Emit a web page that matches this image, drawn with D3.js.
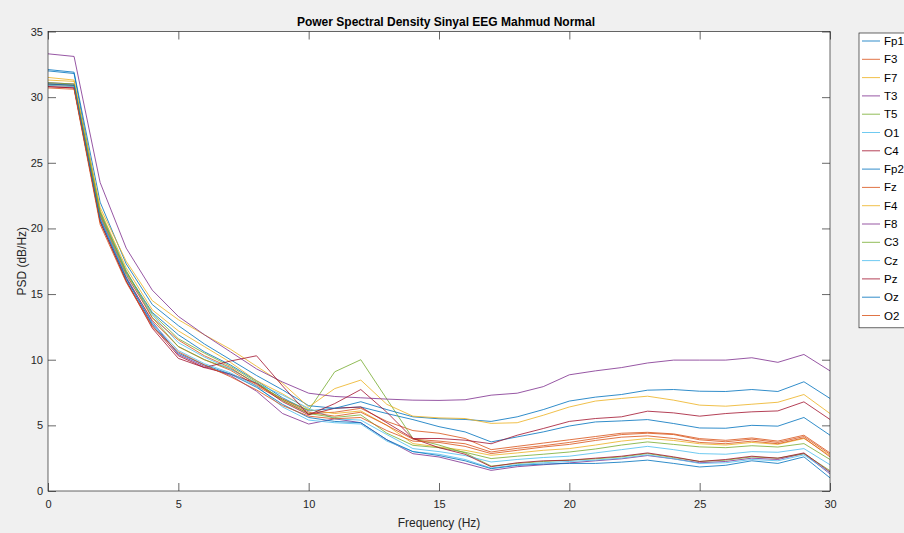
<!DOCTYPE html>
<html>
<head>
<meta charset="utf-8">
<script src="https://cdn.jsdelivr.net/npm/d3@7"></script>
<style>
  html, body { margin: 0; padding: 0; background: #f0f0f0; }
  svg { display: block; }
  text { font-family: "Liberation Sans", Arial, Helvetica, sans-serif; }
</style>
</head>
<body>
<svg id="chart" width="904" height="533"></svg>
<script>
// ---------------- data ----------------
const frequencies = [0,1,2,3,4,5,6,7,8,9,10,11,12,13,14,15,16,17,18,19,20,21,22,23,24,25,26,27,28,29,30];
const channels = ["Fp1","F3","F7","T3","T5","O1","C4","Fp2","Fz","F4","F8","C3","Cz","Pz","Oz","O2"];
const xTicks = [0,5,10,15,20,25,30];
const yTicks = [0,5,10,15,20,25,30,35];

const Fp1 = [32.0,31.8,21.2,16.7,13.6,11.9,10.6,9.6,8.4,7.1,6.1,6.3,6.4,5.9,5.44,4.9,4.5,3.74,4.12,4.5,4.95,5.26,5.34,5.44,5.14,4.8,4.78,5.0,4.94,5.6,4.25];
const F3  = [30.9,30.8,20.5,16.2,13.0,11.0,10.0,9.2,8.0,6.9,5.9,6.0,6.3,5.3,4.6,4.4,4.0,3.15,3.4,3.65,3.9,4.15,4.4,4.47,4.35,3.99,3.86,4.04,3.8,4.25,2.9];
const F7  = [31.3,31.2,21.4,17.0,13.8,12.2,11.0,9.8,8.4,7.4,6.2,5.9,6.1,5.0,3.61,3.35,3.1,2.72,2.9,3.1,3.23,3.5,3.8,4.0,3.85,3.6,3.5,3.7,3.55,4.0,2.7];
const T3  = [31.1,31.0,20.9,16.3,12.9,10.4,9.5,8.8,7.6,5.9,5.1,5.5,5.2,3.9,2.84,2.59,2.1,1.57,1.85,2.0,2.14,2.3,2.45,2.7,2.45,2.15,2.25,2.5,2.4,2.85,1.3];
const T5  = [31.0,30.9,21.3,16.8,13.2,11.0,10.0,9.3,8.2,7.0,6.15,9.08,10.0,7.0,4.0,3.5,2.9,1.9,2.1,2.25,2.35,2.45,2.6,2.85,2.55,2.25,2.35,2.6,2.5,2.85,1.55];
const O1  = [31.0,30.9,20.8,16.4,13.4,11.3,10.2,9.3,8.2,7.3,6.3,5.5,5.4,4.3,3.23,3.0,2.7,2.21,2.4,2.55,2.65,2.9,3.15,3.4,3.15,2.85,2.8,3.0,2.95,3.23,2.0];
const C4  = [30.8,30.7,20.6,16.0,12.6,10.3,9.4,8.9,8.2,6.8,5.8,6.3,6.4,5.2,4.0,4.0,3.87,3.6,4.25,4.76,5.3,5.52,5.65,6.08,5.95,5.7,5.9,6.03,6.1,6.79,5.45];
const Fp2 = [32.1,31.9,22.0,17.3,14.2,12.6,11.2,10.0,8.8,7.7,6.5,6.3,6.8,6.2,5.65,5.5,5.45,5.3,5.65,6.2,6.85,7.15,7.35,7.68,7.73,7.6,7.58,7.73,7.58,8.32,7.05];
const Fz  = [31.0,30.9,21.0,16.5,13.2,11.5,10.3,9.4,8.1,7.0,6.0,5.7,6.0,5.0,3.95,3.8,3.6,2.97,3.25,3.45,3.7,4.0,4.3,4.4,4.3,3.9,3.75,3.95,3.7,4.15,2.8];
const F4  = [31.5,31.3,21.6,17.5,14.5,13.05,11.9,10.8,9.5,8.2,6.4,7.8,8.45,6.6,5.7,5.57,5.52,5.15,5.2,5.77,6.4,6.85,7.05,7.22,6.92,6.54,6.46,6.61,6.76,7.35,5.9];
const F8  = [33.3,33.1,23.5,18.5,15.3,13.3,11.9,10.6,9.3,8.3,7.45,7.2,7.1,7.0,6.92,6.9,6.95,7.3,7.45,7.95,8.85,9.15,9.4,9.75,9.97,9.97,9.97,10.15,9.8,10.4,9.15];
const C3  = [31.1,31.0,21.1,16.6,13.5,11.6,10.5,9.5,8.3,6.9,5.9,5.6,5.8,4.4,3.48,3.3,2.95,2.47,2.65,2.8,2.97,3.2,3.5,3.74,3.55,3.36,3.3,3.45,3.35,3.61,2.4];
const Cz  = [30.9,30.8,20.6,16.1,12.8,10.7,9.7,9.0,8.0,6.4,5.4,5.2,5.1,3.8,3.0,2.8,2.4,1.75,2.0,2.15,2.25,2.35,2.5,2.75,2.45,2.1,2.15,2.4,2.3,2.75,1.4];
const Pz  = [30.8,30.7,20.5,16.0,12.4,10.1,9.4,9.9,10.3,8.0,5.8,6.66,7.73,6.0,4.0,3.3,2.8,1.85,2.15,2.3,2.35,2.5,2.65,2.9,2.6,2.25,2.4,2.65,2.5,2.9,1.45];
const Oz  = [31.0,30.9,20.7,16.2,12.7,10.5,9.6,8.9,7.9,6.6,5.6,5.3,5.2,3.9,3.0,2.7,2.3,1.7,1.95,2.05,2.1,2.1,2.2,2.35,2.1,1.83,1.96,2.3,2.1,2.6,1.0];
const O2  = [30.7,30.6,20.3,15.9,12.5,10.6,9.6,8.7,7.7,6.5,5.7,5.5,5.6,4.6,3.8,3.7,3.4,2.85,3.1,3.35,3.55,3.85,4.1,4.2,4.0,3.7,3.6,3.8,3.6,4.05,2.6];

const seriesValues = [Fp1,F3,F7,T3,T5,O1,C4,Fp2,Fz,F4,F8,C3,Cz,Pz,Oz,O2];
const palette = ["#0072BD","#D95319","#EDB120","#7E2F8E","#77AC30","#4DBEEE","#A2142F"];

// ---------------- layout ----------------
(function draw() {
const svg = d3.select("#chart");
const pLeft = 48, pRight = 830, pTop = 31.5, pBottom = 491;
const axisColor = "#262626";

const x = d3.scaleLinear().domain([0, 30]).range([pLeft, pRight]);
const y = d3.scaleLinear().domain([0, 35]).range([pBottom, pTop]);

svg.append("rect").attr("width", 904).attr("height", 533).attr("fill", "#f0f0f0");
svg.append("rect").attr("x", pLeft).attr("y", pTop)
  .attr("width", pRight - pLeft).attr("height", pBottom - pTop).attr("fill", "#ffffff");

// lines
const line = d3.line().x((d, i) => x(frequencies[i])).y(d => y(d));
const gLines = svg.append("g");
seriesValues.forEach((vals, i) => {
  gLines.append("path")
    .attr("d", line(vals))
    .attr("fill", "none")
    .attr("stroke", palette[i % palette.length])
    .attr("stroke-width", 0.9)
    .attr("stroke-opacity", 0.9)
    .attr("stroke-linejoin", "round");
});

// axes
function styleAxis(g) {
  g.select(".domain").remove();
  g.selectAll(".tick line").attr("stroke", axisColor).attr("stroke-width", 0.7);
  g.selectAll(".tick text").attr("fill", axisColor).attr("font-size", "11px");
}
svg.append("g").attr("transform", `translate(0,${pBottom})`)
  .call(d3.axisBottom(x).tickValues(xTicks).tickSizeInner(-8).tickSizeOuter(0).tickPadding(9).tickFormat(d3.format("d")))
  .call(styleAxis);
svg.append("g").attr("transform", `translate(0,${pTop})`)
  .call(d3.axisTop(x).tickValues(xTicks).tickSizeInner(-8).tickSizeOuter(0).tickFormat(""))
  .call(styleAxis);
svg.append("g").attr("transform", `translate(${pLeft},0)`)
  .call(d3.axisLeft(y).tickValues(yTicks).tickSizeInner(-8).tickSizeOuter(0).tickPadding(5).tickFormat(d3.format("d")))
  .call(styleAxis);
svg.append("g").attr("transform", `translate(${pRight},0)`)
  .call(d3.axisRight(y).tickValues(yTicks).tickSizeInner(-8).tickSizeOuter(0).tickFormat(""))
  .call(styleAxis);

// frame
svg.append("rect").attr("x", pLeft).attr("y", pTop)
  .attr("width", pRight - pLeft).attr("height", pBottom - pTop)
  .attr("fill", "none").attr("stroke", axisColor).attr("stroke-width", 0.7);

// title & labels
svg.append("text").attr("x", 446).attr("y", 26)
  .attr("text-anchor", "middle").attr("font-size", "12px").attr("font-weight", "bold")
  .attr("fill", "#000").text("Power Spectral Density Sinyal EEG Mahmud Normal");
svg.append("text").attr("x", (pLeft + pRight) / 2).attr("y", 527)
  .attr("text-anchor", "middle").attr("font-size", "12px").attr("fill", axisColor)
  .text("Frequency (Hz)");
svg.append("text").attr("transform", `translate(26,${(pTop + pBottom) / 2}) rotate(-90)`)
  .attr("text-anchor", "middle").attr("font-size", "12px").attr("fill", axisColor)
  .text("PSD (dB/Hz)");

// legend
const legX = 859, legY = 33, legStep = 18.3;
const leg = svg.append("g");
leg.append("rect").attr("x", legX).attr("y", legY)
  .attr("width", 60).attr("height", channels.length * legStep + 2)
  .attr("fill", "#ffffff").attr("stroke", axisColor).attr("stroke-width", 0.7);
channels.forEach((name, i) => {
  const cy = legY + 8 + i * legStep;
  leg.append("line").attr("x1", legX + 3).attr("x2", legX + 21)
    .attr("y1", cy).attr("y2", cy)
    .attr("stroke", palette[i % palette.length]).attr("stroke-width", 0.9).attr("stroke-opacity", 0.9);
  leg.append("text").attr("x", legX + 25).attr("y", cy + 4)
    .attr("font-size", "11.5px").attr("fill", "#000").text(name);
});
})();
</script>
</body>
</html>
